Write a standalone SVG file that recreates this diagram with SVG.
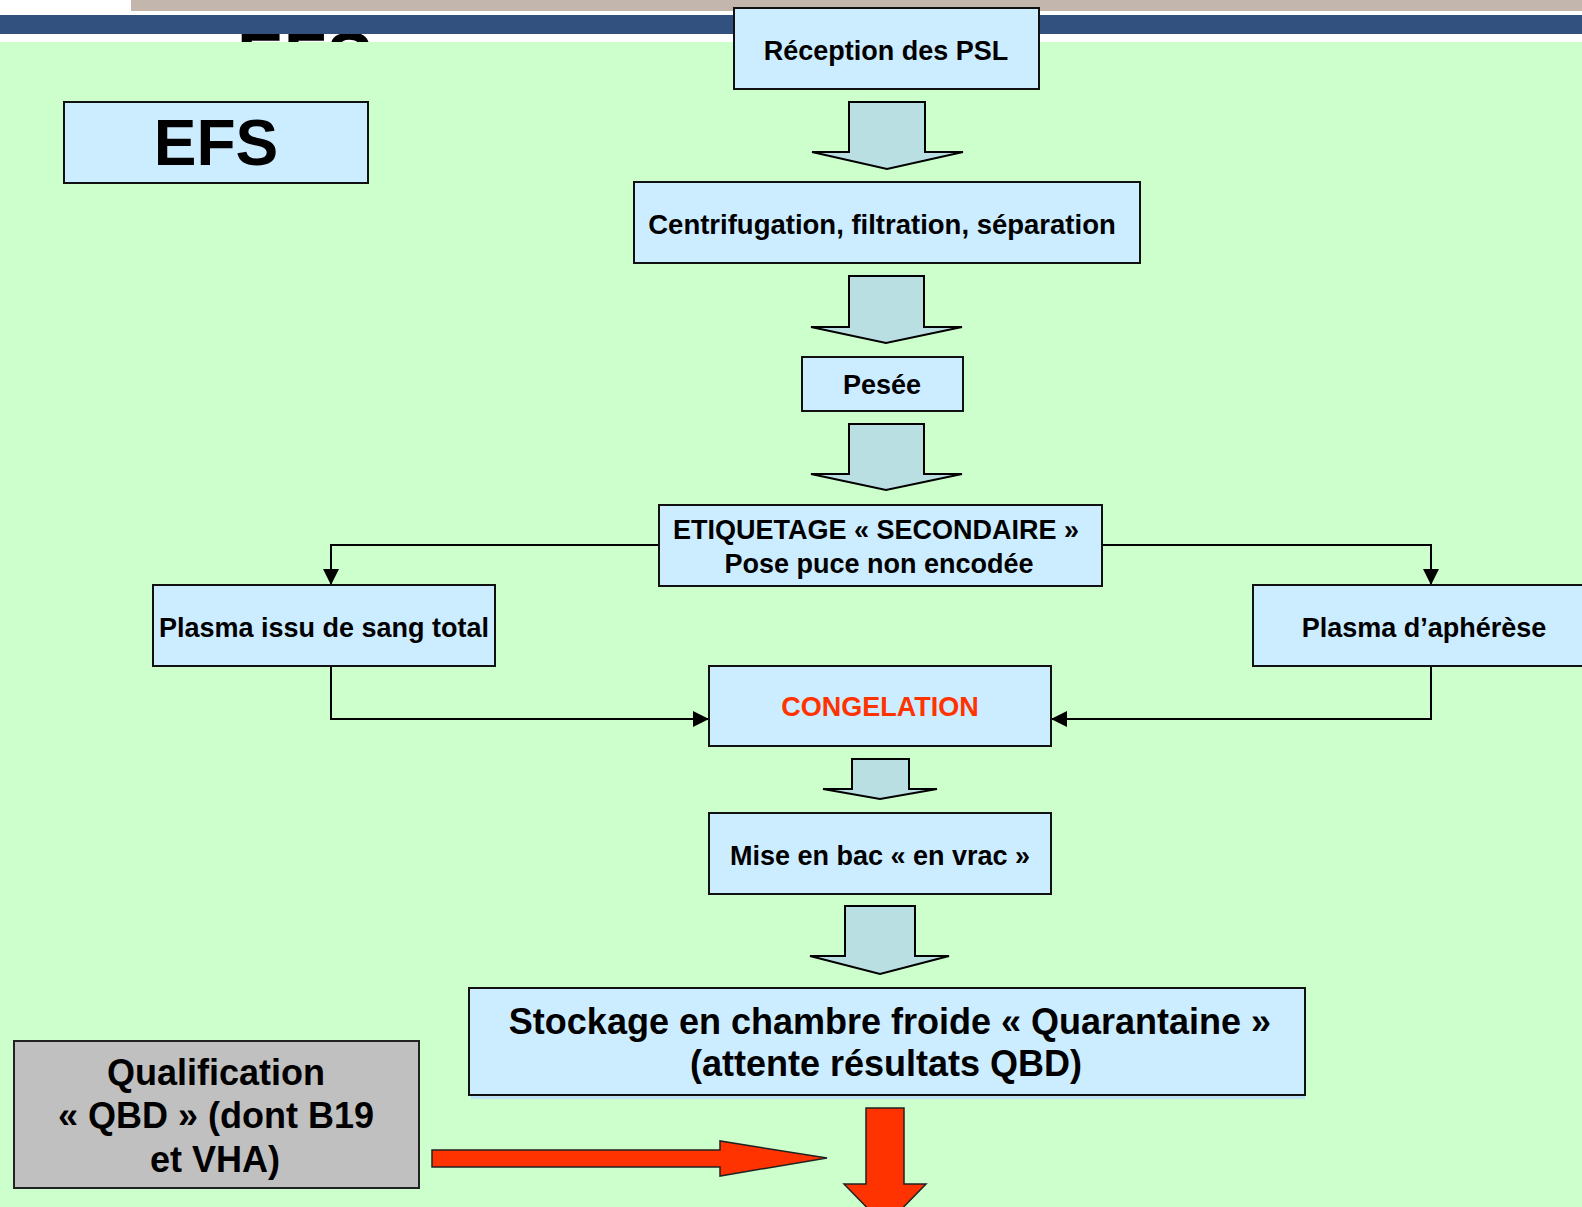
<svg xmlns="http://www.w3.org/2000/svg" width="1582" height="1207" viewBox="0 0 1582 1207">
  <style>
    .box { fill: #CCECFF; stroke: #111; stroke-width: 2; }
    .grey { fill: #C0C0C0; stroke: #222; stroke-width: 2; }
    .blk { fill: #B9DFE3; stroke: #000; stroke-width: 2; stroke-linejoin: miter; }
    .red { fill: #FF3300; stroke: #222; stroke-width: 1.5; }
    .t { font-family: "Liberation Sans", Arial, sans-serif; font-weight: bold; font-size: 27px; fill: #000; text-anchor: middle; }
    .big { font-size: 36px; }
    .conn { fill: none; stroke: #000; stroke-width: 2; }
  </style>
  <defs>
    <marker id="ah" viewBox="0 0 16 16" refX="16" refY="8" markerWidth="16" markerHeight="16" markerUnits="userSpaceOnUse" orient="auto">
      <path d="M0,0 L16,8 L0,16 z" fill="#000"/>
    </marker>
  </defs>

  <!-- background / header -->
  <rect x="0" y="0" width="1582" height="1207" fill="#FFFFFF"/>
  <rect x="131" y="0" width="1451" height="11" fill="#C3B6AC"/>
  <text x="237" y="82" font-family="Liberation Sans, Arial, sans-serif" font-weight="bold" font-size="70" fill="#000">EFS</text>
  <rect x="0" y="15" width="1582" height="19" fill="#33517E"/>
  <rect x="0" y="42" width="1582" height="1165" fill="#CCFFCC"/>

  <!-- block arrows -->
  <g id="block-arrows">
    <polygon class="blk" points="849,102 925,102 925,152 963,152 887,169 812,152 849,152"/>
    <polygon class="blk" points="849,276 924,276 924,327 962,327 886,343 811,327 849,327"/>
    <polygon class="blk" points="849,424 924,424 924,474 962,474 886,490 811,474 849,474"/>
    <polygon class="blk" points="852,759 909,759 909,789 937,789 880,799 823,789 852,789"/>
    <polygon class="blk" points="845,906 915,906 915,956 949,956 880,974 810,956 845,956"/>
  </g>

  <!-- connectors -->
  <g id="connectors">
    <path class="conn" d="M659,545 H331 V585" marker-end="url(#ah)"/>
    <path class="conn" d="M1102,545 H1431 V585" marker-end="url(#ah)"/>
    <path class="conn" d="M331,666 V719 H709" marker-end="url(#ah)"/>
    <path class="conn" d="M1431,666 V719 H1051" marker-end="url(#ah)"/>
  </g>

  <g id="n-reception">
    <rect class="box" x="734" y="8" width="305" height="81"/>
    <text class="t" x="886" y="60">Réception des PSL</text>
  </g>
  <g id="n-efs">
    <rect class="box" x="64" y="102" width="304" height="81"/>
    <text class="t" x="216" y="165" style="font-size:64px">EFS</text>
  </g>
  <g id="n-centrifugation">
    <rect class="box" x="634" y="182" width="506" height="81"/>
    <text class="t" x="882" y="234" style="font-size:27.5px">Centrifugation, filtration, séparation</text>
  </g>
  <g id="n-pesee">
    <rect class="box" x="802" y="357" width="161" height="54"/>
    <text class="t" x="882" y="394">Pesée</text>
  </g>
  <g id="n-etiquetage">
    <rect class="box" x="659" y="505" width="443" height="81"/>
    <text class="t" x="876" y="539">ETIQUETAGE « SECONDAIRE »</text>
    <text class="t" x="879" y="573">Pose puce non encodée</text>
  </g>
  <g id="n-plasma-sang">
    <rect class="box" x="153" y="585" width="342" height="81"/>
    <text class="t" x="324" y="637">Plasma issu de sang total</text>
  </g>
  <g id="n-plasma-apherese">
    <rect class="box" x="1253" y="585" width="360" height="81"/>
    <text class="t" x="1424" y="637">Plasma d’aphérèse</text>
  </g>
  <g id="n-congelation">
    <rect class="box" x="709" y="666" width="342" height="80"/>
    <text class="t" x="880" y="716" style="fill:#FF3300">CONGELATION</text>
  </g>
  <g id="n-mise-en-bac">
    <rect class="box" x="709" y="813" width="342" height="81"/>
    <text class="t" x="880" y="865">Mise en bac « en vrac »</text>
  </g>
  <g id="n-stockage">
    <rect x="471" y="1095" width="834" height="4" fill="#BFE3F5"/>
    <rect class="box" x="469" y="988" width="836" height="107"/>
    <text class="t big" x="890" y="1034">Stockage en chambre froide « Quarantaine »</text>
    <text class="t big" x="886" y="1076">(attente résultats QBD)</text>
  </g>
  <g id="n-qualification">
    <rect class="grey" x="14" y="1041" width="405" height="147"/>
    <text class="t big" x="216" y="1085">Qualification</text>
    <text class="t big" x="216" y="1128">« QBD » (dont B19</text>
    <text class="t big" x="215" y="1172">et VHA)</text>
  </g>

  <g id="red-arrows">
    <polygon class="red" points="432,1150 720,1150 720,1141 827,1158 720,1176 720,1167 432,1167"/>
    <polygon class="red" points="866,1108 904,1108 904,1184 926,1184 885,1226 844,1184 866,1184"/>
  </g>
</svg>
